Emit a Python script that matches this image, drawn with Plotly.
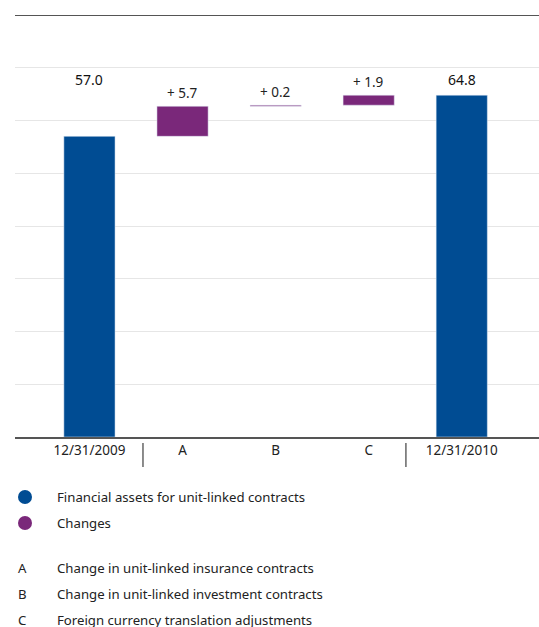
import plotly.graph_objects as go

# data
categories = ["12/31/2009", "A", "B", "C", "12/31/2010"]
start_value = 57.0
changes = [5.7, 0.2, 1.9]
end_value = 64.8
series_names = ["Financial assets for unit-linked contracts", "Changes"]
footnotes = [("A", "Change in unit-linked insurance contracts"),
             ("B", "Change in unit-linked investment contracts"),
             ("C", "Foreign currency translation adjustments")]

BLUE = "rgb(0,76,147)"
PURPLE = "rgb(122,40,122)"
FONT = "Noto Sans, Open Sans, sans-serif"
TXT = "#222"
W, H = 539, 627
L, R, T, B = 15, 0, 15, 190
PW, PH = W - L - R, H - T - B

def px(x):
    return (x - L) / PW

def py(y):
    return (H - B - y) / PH

xs = list(range(len(categories)))

# waterfall bases
bases, heights = [], []
running = start_value
for c in changes:
    bases.append(running)
    heights.append(c)
    running += c

fig = go.Figure()
fig.add_trace(go.Bar(x=[xs[0], xs[-1]], y=[start_value, end_value],
                     marker_color=BLUE, width=0.55, hoverinfo="skip"))
fig.add_trace(go.Bar(x=xs[1:-1], y=heights, base=bases,
                     marker_color=PURPLE, width=0.55, hoverinfo="skip"))

# value labels
top_total = max(start_value, end_value)
for xi, v in [(xs[0], start_value), (xs[-1], end_value)]:
    fig.add_annotation(x=xi, y=top_total, text=f"{v:.1f}", showarrow=False,
                       yshift=16, font=dict(size=14, color="#111", family=FONT))
for xi, b, h in zip(xs[1:-1], bases, heights):
    fig.add_annotation(x=xi, y=b + h, text=f"+ {h:.1f}", showarrow=False,
                       yshift=13, font=dict(size=13.5, color=TXT, family=FONT))

shapes = []
# top border line
shapes.append(dict(type="line", xref="paper", yref="y", x0=0, x1=1, y0=80, y1=80,
                   line=dict(color="#555", width=2)))
# separators under axis
for sx in [0.575, 3.40]:
    shapes.append(dict(type="line", xref="x", yref="paper", x0=sx, x1=sx,
                       y0=py(443), y1=py(467), line=dict(color="#666", width=1.5)))

# legend
legend_rows = [(BLUE, series_names[0], 497), (PURPLE, series_names[1], 523)]
for col, name, yy in legend_rows:
    shapes.append(dict(type="circle", xref="paper", yref="paper",
                       x0=px(18), x1=px(32), y0=py(yy + 7), y1=py(yy - 7),
                       fillcolor=col, line=dict(width=0)))
    fig.add_annotation(xref="paper", yref="paper", x=px(55), y=py(yy), text=name,
                       showarrow=False, xanchor="left", yanchor="middle",
                       font=dict(size=13.2, color=TXT, family=FONT))
for i, (letter, desc) in enumerate(footnotes):
    yy = 568 + 26 * i
    fig.add_annotation(xref="paper", yref="paper", x=px(16), y=py(yy), text=letter,
                       showarrow=False, xanchor="left", yanchor="middle",
                       font=dict(size=13.2, color=TXT, family=FONT))
    fig.add_annotation(xref="paper", yref="paper", x=px(55), y=py(yy), text=desc,
                       showarrow=False, xanchor="left", yanchor="middle",
                       font=dict(size=13.2, color=TXT, family=FONT))

fig.update_layout(
    width=W, height=H, margin=dict(l=L, r=R, t=T, b=B),
    paper_bgcolor="white", plot_bgcolor="white",
    showlegend=False, shapes=shapes, barmode="overlay",
    font=dict(family=FONT, size=13.5, color=TXT),
)
fig.update_xaxes(range=[-0.8, 4.83], tickvals=xs, ticktext=categories,
                 showgrid=False, showline=True, linecolor="#555", linewidth=1.5,
                 ticks="", tickfont=dict(size=13.5, color=TXT), fixedrange=True)
fig.update_yaxes(range=[0, 80], dtick=10, showticklabels=False,
                 showgrid=True, gridcolor="#e6e6e6", gridwidth=1,
                 zeroline=False, showline=False, fixedrange=True)

fig.write_html("out.html", config={"displayModeBar": False},
               post_script="document.body.style.margin='0';document.body.style.overflow='hidden';")
